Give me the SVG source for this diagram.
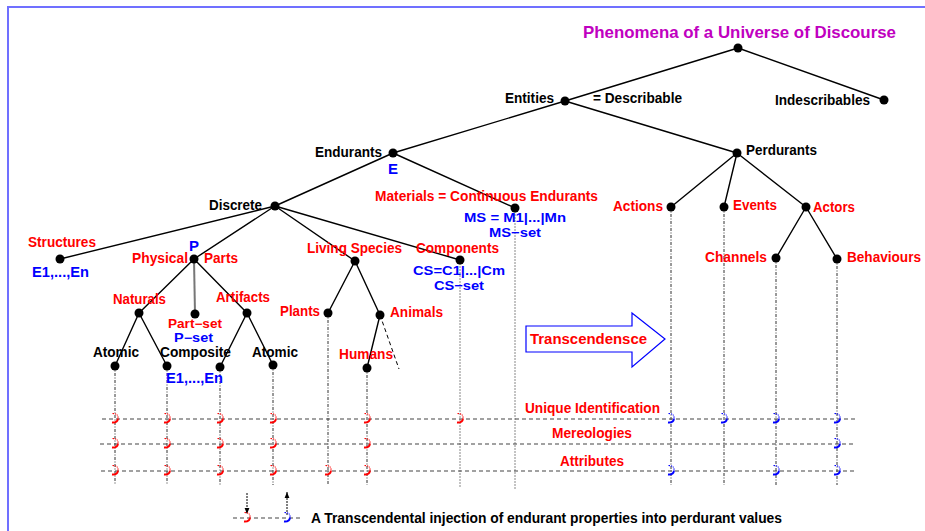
<svg xmlns="http://www.w3.org/2000/svg" xmlns:xlink="http://www.w3.org/1999/xlink" width="925" height="531" viewBox="0 0 925 531">
<style>
  text { font-family: "Liberation Sans", Arial, sans-serif; font-weight: bold; font-size: 14px; }
  .sm { font-size: 13px; }
  .xs { font-size: 12px; }
  .k { fill: #000; }
  .r { fill: #ff0000; }
  .b { fill: #0000ff; }
  .ttl { fill: #c000c0; font-size: 17px; }
  .e { stroke: #000; stroke-width: 1.4; fill: none; }
  .dot { fill: #000; }
  .v { stroke: #333; stroke-width: 1; stroke-dasharray: 3,1.5,1,1.5; fill: none; }
  .vg { stroke: #888; stroke-width: 1; stroke-dasharray: 2,1; fill: none; }
  .h { stroke: #444; stroke-width: 1.2; stroke-dasharray: 4,3; fill: none; }
  .mr { color: #ff0000; }
  .mb { color: #0000ff; }
</style>
<defs>
  <g id="mk" fill="none" stroke="currentColor">
    <path d="M-2.5,-5.5 Q3.5,-5.5 3,-0.5" stroke-width="1.1" stroke-dasharray="1.2,1"/>
    <path d="M3,-0.5 Q2.5,4 -3,3.5" stroke-width="2"/>
  </g>
  <marker id="ah" viewBox="0 0 10 10" refX="10" refY="5" markerWidth="6" markerHeight="6" orient="auto">
    <path d="M0,1 L10,5 L0,9 Z" fill="#000"/>
  </marker>
</defs>

<!-- frame -->
<path d="M8,531 V7 H925" fill="none" stroke="#7070ff" stroke-width="2"/>

<text class="ttl" x="583" y="38" textLength="313" lengthAdjust="spacingAndGlyphs">Phenomena of a Universe of Discourse</text>

<!-- connectors -->
<g id="connectors">
  <path class="e" d="M738,48 L565,101 M738,48 L884,100 M565,101 L393,153 M565,101 L737,153
    M393,153 L275,206 M393,153 L515,208
    M275,206 L60,259 M275,206 L194,259 M275,206 L355,261 M275,206 L460,260
    M737,153 L671,207 M737,153 L724,207 M737,153 L806,207
    M806,207 L776,258 M806,207 L837,259
    M194,259 L139,313 M194,259 L247,313
    M139,313 L115,366 M139,313 L167,366 M247,313 L220,367 M247,313 L273,365
    M355,261 L328,313 M355,261 L380,315 M380,315 L367,368"/>
  <path d="M194,259 L195,314" stroke="#777" stroke-width="2" fill="none"/>
  <path d="M380,315 L399,369" stroke="#000" stroke-width="1" stroke-dasharray="4,3" fill="none"/>
  <!-- vertical projection lines -->
  <path class="v" d="M115,366 V485 M167,366 V485 M220,367 V485 M273,365 V485 M328,313 V485 M367,368 V485 M671,207 V485 M724,207 V485 M776,258 V485 M837,259 V485"/>
  <path class="vg" d="M460,260 V488 M515,208 V490"/>
  <!-- horizontal property lines -->
  <path class="h" d="M102,419 H857 M100,444 H853 M101,471 H855"/>
  <!-- transcendence arrow -->
  <path d="M526,326 H632 V313 L665,339 L632,367 V352 H526 Z" fill="#fff" stroke="#0000ff" stroke-width="1.2"/>
  <!-- legend -->
  <path class="h" d="M233,518 H300"/>
  <path d="M247,493 V514" stroke="#000" stroke-width="1" stroke-dasharray="2,1" marker-end="url(#ah)" fill="none"/>
  <path d="M287,515 V492" stroke="#000" stroke-width="1" stroke-dasharray="2,1" marker-end="url(#ah)" fill="none"/>
</g>

<!-- markers at intersections -->
<g id="injections">
  <use xlink:href="#mk" class="mr" x="115" y="419"/>
  <use xlink:href="#mk" class="mr" x="167" y="419"/>
  <use xlink:href="#mk" class="mr" x="220" y="419"/>
  <use xlink:href="#mk" class="mr" x="273" y="419"/>
  <use xlink:href="#mk" class="mr" x="367" y="419"/>
  <use xlink:href="#mk" class="mr" x="460" y="419"/>
  <use xlink:href="#mk" class="mb" x="671" y="419"/>
  <use xlink:href="#mk" class="mb" x="724" y="419"/>
  <use xlink:href="#mk" class="mb" x="776" y="419"/>
  <use xlink:href="#mk" class="mb" x="837" y="419"/>
  <use xlink:href="#mk" class="mr" x="115" y="444"/>
  <use xlink:href="#mk" class="mr" x="167" y="444"/>
  <use xlink:href="#mk" class="mr" x="220" y="444"/>
  <use xlink:href="#mk" class="mr" x="273" y="444"/>
  <use xlink:href="#mk" class="mr" x="367" y="444"/>
  <use xlink:href="#mk" class="mb" x="837" y="444"/>
  <use xlink:href="#mk" class="mr" x="115" y="471"/>
  <use xlink:href="#mk" class="mr" x="167" y="471"/>
  <use xlink:href="#mk" class="mr" x="220" y="471"/>
  <use xlink:href="#mk" class="mr" x="273" y="471"/>
  <use xlink:href="#mk" class="mr" x="328" y="471"/>
  <use xlink:href="#mk" class="mr" x="367" y="471"/>
  <use xlink:href="#mk" class="mb" x="671" y="471"/>
  <use xlink:href="#mk" class="mb" x="776" y="471"/>
  <use xlink:href="#mk" class="mb" x="837" y="471"/>
  <use xlink:href="#mk" class="mr" x="247" y="518"/>
  <use xlink:href="#mk" class="mb" x="287" y="518"/>
</g>

<!-- nodes -->
<g id="n-root"><circle class="dot" cx="738" cy="48" r="4.5"/></g>
<g id="n-entities"><circle class="dot" cx="565" cy="101" r="4.5"/>
  <text class="k" x="505" y="103" textLength="49" lengthAdjust="spacingAndGlyphs">Entities</text>
  <text class="k" x="593" y="103" textLength="89" lengthAdjust="spacingAndGlyphs">= Describable</text></g>
<g id="n-indescribables"><circle class="dot" cx="884" cy="100" r="4.5"/>
  <text class="k" x="775" y="105" textLength="95" lengthAdjust="spacingAndGlyphs">Indescribables</text></g>
<g id="n-endurants"><circle class="dot" cx="393" cy="153" r="4.5"/>
  <text class="k" x="315" y="157" textLength="67" lengthAdjust="spacingAndGlyphs">Endurants</text>
  <text class="b" x="388" y="174" textLength="10" lengthAdjust="spacingAndGlyphs">E</text></g>
<g id="n-perdurants"><circle class="dot" cx="737" cy="153" r="4.5"/>
  <text class="k" x="746" y="155" textLength="71" lengthAdjust="spacingAndGlyphs">Perdurants</text></g>
<g id="n-discrete"><circle class="dot" cx="275" cy="206" r="4.5"/>
  <text class="k" x="209" y="210" textLength="53" lengthAdjust="spacingAndGlyphs">Discrete</text></g>
<g id="n-materials"><circle class="dot" cx="515" cy="208" r="4.5"/>
  <text class="r" x="375" y="201" textLength="223" lengthAdjust="spacingAndGlyphs">Materials = Continuous Endurants</text>
  <text class="b sm" x="464" y="222" textLength="102" lengthAdjust="spacingAndGlyphs">MS = M1|...|Mn</text>
  <text class="b sm" x="489" y="237" textLength="52" lengthAdjust="spacingAndGlyphs">MS−set</text></g>
<g id="n-structures"><circle class="dot" cx="60" cy="259" r="4.5"/>
  <text class="r" x="28" y="247" textLength="68" lengthAdjust="spacingAndGlyphs">Structures</text>
  <text class="b" x="32" y="277" textLength="57" lengthAdjust="spacingAndGlyphs">E1,...,En</text></g>
<g id="n-physical"><circle class="dot" cx="194" cy="259" r="4.5"/>
  <text class="b" x="189" y="251" textLength="10" lengthAdjust="spacingAndGlyphs">P</text>
  <text class="r" x="132" y="263" textLength="56" lengthAdjust="spacingAndGlyphs">Physical</text>
  <text class="r" x="204" y="263" textLength="34" lengthAdjust="spacingAndGlyphs">Parts</text></g>
<g id="n-living"><circle class="dot" cx="355" cy="261" r="4.5"/>
  <text class="r" x="307" y="253" textLength="95" lengthAdjust="spacingAndGlyphs">Living Species</text></g>
<g id="n-components"><circle class="dot" cx="460" cy="260" r="4.5"/>
  <text class="r" x="416" y="253" textLength="83" lengthAdjust="spacingAndGlyphs">Components</text>
  <text class="b sm" x="413" y="275" textLength="92" lengthAdjust="spacingAndGlyphs">CS=C1|...|Cm</text>
  <text class="b sm" x="434" y="290" textLength="50" lengthAdjust="spacingAndGlyphs">CS−set</text></g>
<g id="n-actions"><circle class="dot" cx="671" cy="207" r="4.5"/>
  <text class="r" x="613" y="211" textLength="50" lengthAdjust="spacingAndGlyphs">Actions</text></g>
<g id="n-events"><circle class="dot" cx="724" cy="207" r="4.5"/>
  <text class="r" x="733" y="210" textLength="44" lengthAdjust="spacingAndGlyphs">Events</text></g>
<g id="n-actors"><circle class="dot" cx="806" cy="207" r="4.5"/>
  <text class="r" x="813" y="212" textLength="42" lengthAdjust="spacingAndGlyphs">Actors</text></g>
<g id="n-channels"><circle class="dot" cx="776" cy="258" r="4.5"/>
  <text class="r" x="705" y="262" textLength="62" lengthAdjust="spacingAndGlyphs">Channels</text></g>
<g id="n-behaviours"><circle class="dot" cx="837" cy="259" r="4.5"/>
  <text class="r" x="847" y="262" textLength="74" lengthAdjust="spacingAndGlyphs">Behaviours</text></g>
<g id="n-naturals"><circle class="dot" cx="139" cy="313" r="4.5"/>
  <text class="r" x="113" y="304" textLength="53" lengthAdjust="spacingAndGlyphs">Naturals</text></g>
<g id="n-partset"><circle class="dot" cx="195" cy="314" r="4.5"/>
  <text class="r xs" x="168" y="328" textLength="54" lengthAdjust="spacingAndGlyphs">Part−set</text>
  <text class="b xs" x="174" y="342" textLength="39" lengthAdjust="spacingAndGlyphs">P−set</text></g>
<g id="n-artifacts"><circle class="dot" cx="247" cy="313" r="4.5"/>
  <text class="r" x="216" y="302" textLength="54" lengthAdjust="spacingAndGlyphs">Artifacts</text></g>
<g id="n-atomic1"><circle class="dot" cx="115" cy="366" r="4.5"/>
  <text class="k" x="93" y="357" textLength="46" lengthAdjust="spacingAndGlyphs">Atomic</text></g>
<g id="n-composite"><circle class="dot" cx="167" cy="366" r="4.5"/>
  <text class="k" x="160" y="357" textLength="71" lengthAdjust="spacingAndGlyphs">Composite</text>
  <text class="b" x="166" y="383" textLength="57" lengthAdjust="spacingAndGlyphs">E1,...,En</text></g>
<g id="n-artifact-composite"><circle class="dot" cx="220" cy="367" r="4.5"/></g>
<g id="n-atomic2"><circle class="dot" cx="273" cy="365" r="4.5"/>
  <text class="k" x="252" y="357" textLength="46" lengthAdjust="spacingAndGlyphs">Atomic</text></g>
<g id="n-plants"><circle class="dot" cx="328" cy="313" r="4.5"/>
  <text class="r" x="280" y="316" textLength="40" lengthAdjust="spacingAndGlyphs">Plants</text></g>
<g id="n-animals"><circle class="dot" cx="380" cy="315" r="4.5"/>
  <text class="r" x="390" y="317" textLength="53" lengthAdjust="spacingAndGlyphs">Animals</text></g>
<g id="n-humans"><circle class="dot" cx="367" cy="368" r="4.5"/>
  <text class="r" x="339" y="359" textLength="54" lengthAdjust="spacingAndGlyphs">Humans</text></g>

<text class="r" x="530" y="344" textLength="117" lengthAdjust="spacingAndGlyphs">Transcendensce</text>
<text class="r" x="525" y="413" textLength="135" lengthAdjust="spacingAndGlyphs">Unique Identification</text>
<text class="r" x="552" y="438" textLength="80" lengthAdjust="spacingAndGlyphs">Mereologies</text>
<text class="r" x="560" y="466" textLength="64" lengthAdjust="spacingAndGlyphs">Attributes</text>
<text class="k" x="311" y="523" textLength="471" lengthAdjust="spacingAndGlyphs">A Transcendental injection of endurant properties into perdurant values</text>
</svg>
